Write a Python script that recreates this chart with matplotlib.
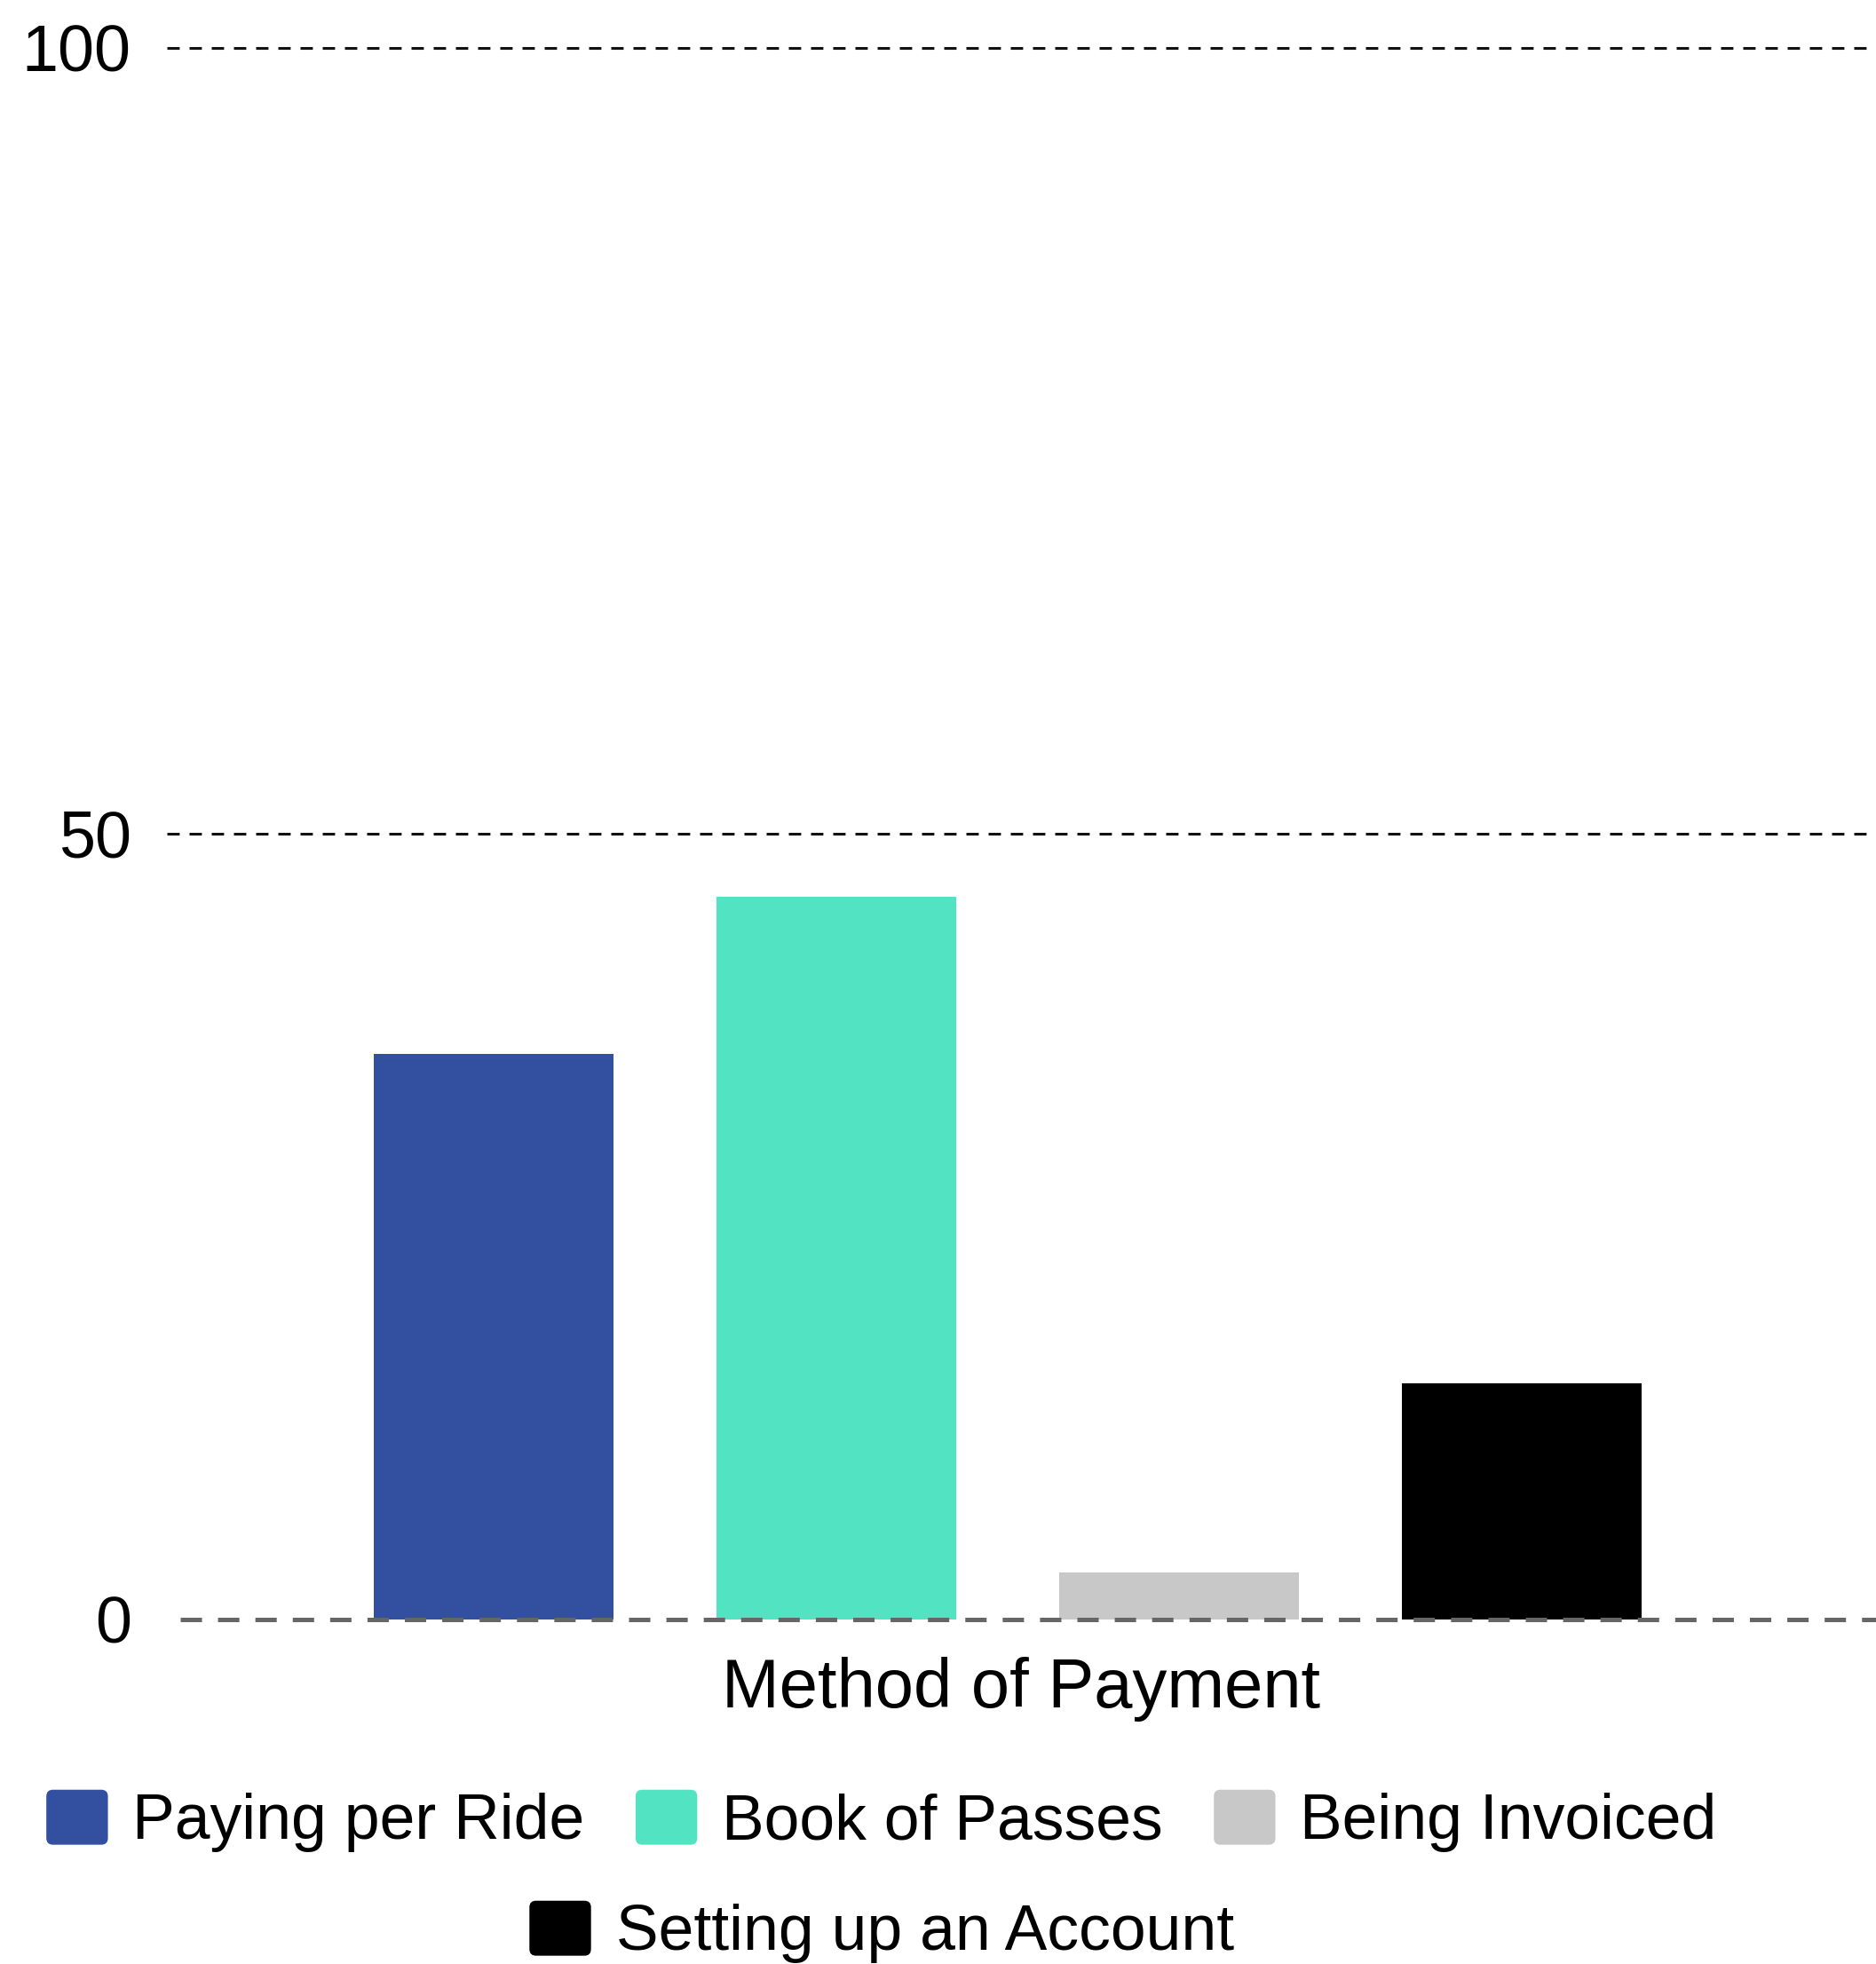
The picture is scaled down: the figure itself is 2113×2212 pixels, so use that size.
import matplotlib
matplotlib.use("Agg")
import matplotlib.pyplot as plt
from matplotlib.legend_handler import HandlerPatch
from matplotlib.patches import FancyBboxPatch

plt.rcParams["font.family"] = ["Liberation Sans", "DejaVu Sans"]
plt.rcParams["lines.scale_dashes"] = False

# data
categories = ["Paying per Ride", "Book of Passes", "Being Invoiced", "Setting up an Account"]
values = [36, 46, 3, 15]
colors = ["#334fa0", "#52e3c2", "#c8c8c8", "#000000"]
yticks = [0, 50, 100]
xlabel = "Method of Payment"


class RoundHandler(HandlerPatch):
    # legend swatches with slightly rounded corners
    def create_artists(self, legend, orig_handle, xdescent, ydescent,
                       width, height, fontsize, trans):
        p = FancyBboxPatch((-xdescent, -ydescent), width, height,
                           boxstyle="round,pad=0,rounding_size=%f" % (0.12 * height),
                           facecolor=orig_handle.get_facecolor(),
                           edgecolor="none", transform=trans)
        return [p]


fig = plt.figure(figsize=(21.13, 22.12), dpi=100)
ax = fig.add_axes([0.08897, 0.17541, 0.91103, 0.80040])

x = list(range(len(categories)))
bars = ax.bar(x, values, width=0.70, color=colors, zorder=2)

ax.set_xlim(-0.953, 4.034)
ax.set_ylim(0, 100)

# grid lines (not at zero)
for y in yticks[1:]:
    ax.axhline(y, color="#111111", lw=2.2, ls=(0, (10, 8)), clip_on=False, zorder=1)

# zero line, drawn over the bars
ax.axhline(0, xmin=0.0078, color="#666666", lw=3.6, ls=(0, (17.3, 13)),
           clip_on=False, zorder=3)

for s in ax.spines.values():
    s.set_visible(False)
ax.set_xticks([])
ax.set_yticks(yticks)
ax.tick_params(axis="y", length=0, pad=29, labelsize=53, labelcolor="black")

ax.set_xlabel(xlabel, fontsize=56, va="baseline")
ax.xaxis.set_label_coords(0.5, -0.0559)

handles = list(bars)
hmap = {h: RoundHandler() for h in handles}
leg_kw = dict(frameon=False, fontsize=51.5, handlelength=0.97, handleheight=0.955,
              handletextpad=0.39, columnspacing=0.8, borderpad=0, borderaxespad=0,
              loc="center", handler_map=hmap)

fig.legend(handles[:3], categories[:3], ncol=3,
           bbox_to_anchor=(993 / 2113, 1 - 2051 / 2212), **leg_kw)
fig.legend(handles[3:], categories[3:], ncol=1,
           bbox_to_anchor=(993 / 2113, 1 - 2176 / 2212), **leg_kw)

fig.savefig("out.png", dpi=100)
